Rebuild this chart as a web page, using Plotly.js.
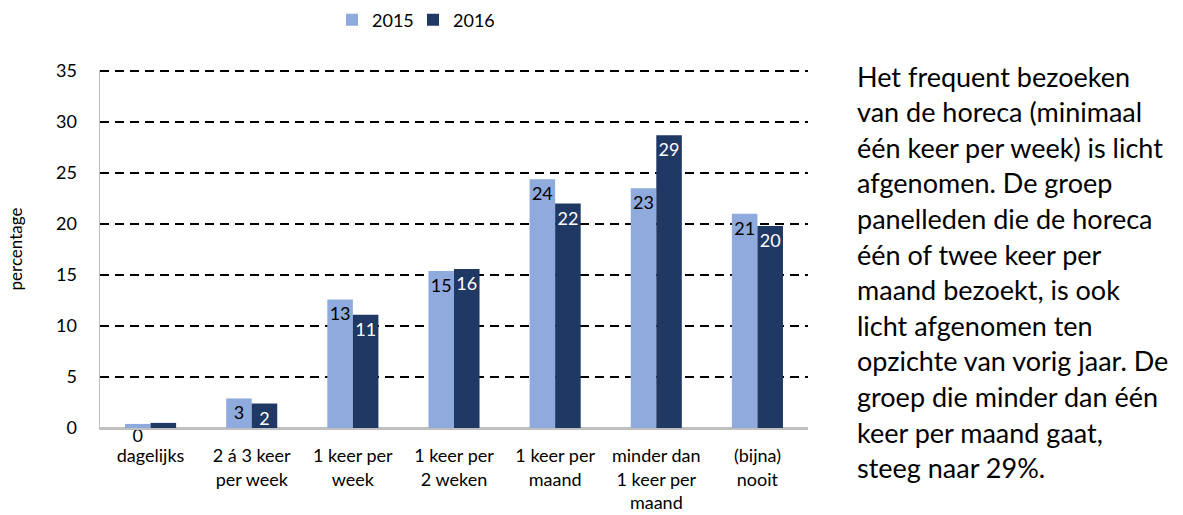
<!DOCTYPE html>
<html>
<head>
<meta charset="utf-8">
<script src="https://cdn.plot.ly/plotly-3.0.1.min.js"></script>
<style>html,body{margin:0;padding:0;background:#fff;}#chart{width:1183px;height:515px;}</style>
</head>
<body>
<div id="chart"></div>
<script>
const categories = ["dagelijks", "2 á 3 keer<br>per week", "1 keer per<br>week", "1 keer per<br>2 weken", "1 keer per<br>maand", "minder dan<br>1 keer per<br>maand", "(bijna)<br>nooit"];
const values2015 = [0.4, 2.9, 12.6, 15.4, 24.4, 23.5, 21.0];
const values2016 = [0.5, 2.4, 11.1, 15.6, 22.0, 28.7, 19.8];
const labels2015 = ["0", "3", "13", "15", "24", "23", "21"];
const labels2016 = ["0", "2", "11", "16", "22", "29", "20"];
const seriesNames = ["2015", "2016"];
const yTicks = [0, 5, 10, 15, 20, 25, 30, 35];
const paragraphLines = [
  "Het frequent bezoeken",
  "van de horeca (minimaal",
  "één keer per week) is licht",
  "afgenomen. De groep",
  "panelleden die de horeca",
  "één of twee keer per",
  "maand bezoekt, is ook",
  "licht afgenomen ten",
  "opzichte van vorig jaar. De",
  "groep die minder dan één",
  "keer per maand gaat,",
  "steeg naar 29%."
];

const FONT = "Lato, 'Open Sans', sans-serif";
const W = 1183, H = 515;
const M = {l: 100, r: 375, t: 70, b: 87, autoexpand: false};
const plotW = W - M.l - M.r, plotH = H - M.t - M.b;
const pxX = x => (x - M.l) / plotW;
const pxY = y => (H - M.b - y) / plotH;

const traces = [
  {type: "bar", name: seriesNames[0], x: categories, y: values2015, text: labels2015,
   marker: {color: "#8FAADC"}, textposition: "inside", insidetextanchor: "end",
   textangle: 0, constraintext: "none", cliponaxis: false,
   textfont: {family: FONT, size: 18, color: "#000000"}, hoverinfo: "none"},
  {type: "bar", name: seriesNames[1], x: categories, y: values2016, text: labels2016,
   marker: {color: "#203864"}, textposition: "inside", insidetextanchor: "end",
   textangle: 0, constraintext: "none", cliponaxis: false,
   textfont: {family: FONT, size: 18, color: "#FFFFFF"}, hoverinfo: "none"}
];

const annotations = paragraphLines.map((t, i) => ({
  text: t, xref: "paper", yref: "paper", x: pxX(855), y: pxY(76 + 35.6 * i),
  xanchor: "left", yanchor: "middle", showarrow: false, align: "left",
  font: {family: FONT, size: 27, color: "#000000"}
}));

const layout = {
  width: W, height: H, margin: M,
  paper_bgcolor: "#ffffff", plot_bgcolor: "#ffffff",
  font: {family: FONT, size: 18, color: "#000000"},
  barmode: "group", bargap: 0.495, bargroupgap: 0,
  showlegend: true,
  legend: {orientation: "h", x: pxX(413), xanchor: "center", y: pxY(20), yanchor: "middle",
           font: {family: FONT, size: 18, color: "#000000"}, entrywidth: 36, entrywidthmode: "pixels",
           bgcolor: "rgba(0,0,0,0)"},
  xaxis: {type: "category", showline: true, linecolor: "#BFBFBF", linewidth: 1.5,
          showgrid: false, ticks: "", tickangle: 0, ticklabelstandoff: 11,
          tickfont: {family: FONT, size: 18, color: "#000000"}},
  yaxis: {range: [0, 35.1], tickvals: yTicks, ticktext: yTicks.map(String),
          showline: true, linecolor: "#BFBFBF", linewidth: 1.5,
          showgrid: true, gridcolor: "#000000", gridwidth: 2, griddash: "9px,6px",
          zeroline: true, zerolinecolor: "#BFBFBF", zerolinewidth: 1.5,
          ticks: "", ticklabelstandoff: 18,
          tickfont: {family: FONT, size: 18, color: "#000000"},
          title: {text: "percentage", standoff: 29, font: {family: FONT, size: 17, color: "#000000"}}},
  annotations: annotations
};

Plotly.newPlot("chart", traces, layout, {displayModeBar: false, staticPlot: true});
</script>
</body>
</html>
